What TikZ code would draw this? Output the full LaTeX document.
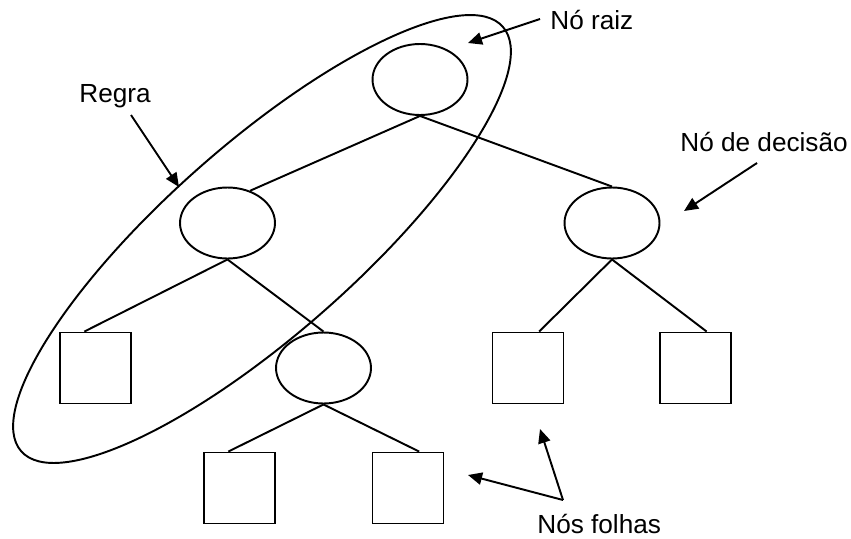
\documentclass[tikz,border=0pt]{standalone}
\usepackage{fontspec}
\setmainfont{Liberation Sans}
\usetikzlibrary{arrows.meta,shapes.geometric}

\begin{document}
\begin{tikzpicture}[x=0.02cm,y=-0.02cm,
  decisao/.style={draw,ellipse,line width=1.1pt,minimum width=1.9cm,minimum height=1.42cm,inner sep=0},
  folha/.style={draw,rectangle,line width=1.1pt,minimum size=1.42cm,inner sep=0},
  rotulo/.style={anchor=base west,inner sep=0,font=\fontsize{14.9}{18}\selectfont},
  seta/.style={line width=1.1pt,-{Triangle[length=8pt,width=7pt]}},
  aresta/.style={line width=1.1pt}]
\useasboundingbox (0,0) rectangle (851,538);

%nos da arvore
\node[decisao] (raiz) at (420,79.5) {};
\node[decisao] (esq) at (227.5,223) {};
\node[decisao] (dir) at (612,223) {};
\node[decisao] (meio) at (323.5,368) {};
\node[folha] (f1) at (95.5,368) {};
\node[folha] (f2) at (528,368) {};
\node[folha] (f3) at (695.5,368) {};
\node[folha] (f4) at (239.5,488) {};
\node[folha] (f5) at (408,488) {};

\draw[aresta] (raiz.south) -- (esq.55);
\draw[aresta] (raiz.south) -- (dir.north);
\draw[aresta] (esq.south) -- (f1.107);
\draw[aresta] (esq.south) -- (meio.north);
\draw[aresta] (dir.south) -- (f2.73);
\draw[aresta] (dir.south) -- (f3.73);
\draw[aresta] (meio.south) -- (f4.107);
\draw[aresta] (meio.south) -- (f5.73);

%a regra: elipse inclinada
\draw[aresta, rotate around={41.4:(262,239)}] (262,239) ellipse [x radius=321, y radius=95];

%rotulos
\node[rotulo] (lraiz) at (550,29) {Nó raiz};
\node[rotulo] (lregra) at (79,102) {Regra};
\node[rotulo] (ldecisao) at (680,151) {Nó de decisão};
\node[rotulo] (lfolhas) at (537,533) {Nós folhas};

\coordinate (raizA) at (540,19);
\coordinate (raizB) at (468,43);
\coordinate (regraA) at (131,115);
\coordinate (regraB) at (179,187);
\coordinate (decA) at (757,163);
\coordinate (decB) at (684,211);
\coordinate (folA) at (563,500);
\coordinate (folB) at (468,475);
\coordinate (folC) at (540,429);

\draw[seta] (raizA) -- (raizB);
\draw[seta] (regraA) -- (regraB);
\draw[seta] (decA) -- (decB);
\draw[seta] (folA) -- (folB);
\draw[seta] (folA) -- (folC);

\end{tikzpicture}
\end{document}
